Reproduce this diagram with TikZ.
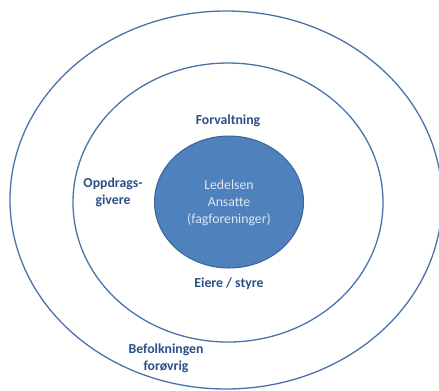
\documentclass[tikz,border=0pt]{standalone}
\usepackage{fontspec}
\setmainfont{Carlito}
\usetikzlibrary{shapes.geometric}
\definecolor{ringblue}{HTML}{4A72AA}
\definecolor{corefill}{HTML}{4F81BD}
\definecolor{coreline}{HTML}{3B6499}
\definecolor{labelblue}{HTML}{2B4F87}
\definecolor{coretext}{HTML}{DCE6F2}
\begin{document}
\begin{tikzpicture}[x=1bp,y=-1bp,
  ring/.style={draw=ringblue,line width=1.3bp},
  label/.style={text=labelblue,font=\fontsize{13.8}{17}\selectfont\bfseries,align=center,inner sep=0pt},
  coretxt/.style={text=coretext,font=\fontsize{13.8}{17}\selectfont,align=center,inner sep=0pt}]
  \useasboundingbox (0,0) rectangle (439,390);
  \clip (0,0) rectangle (439,390);
  % outer and inner rings
  \node[ring,ellipse,minimum width=432bp,minimum height=378bp,inner sep=0pt] (outer) at (226,200) {};
  \node[ring,ellipse,minimum width=310bp,minimum height=279bp,inner sep=0pt] (inner) at (228,202.5) {};
  % core
  \node[ellipse,fill=corefill,draw=coreline,line width=1bp,minimum width=149bp,minimum height=132bp,inner sep=0pt] (core) at (229,202) {};
  \node[coretxt] (coretext) at (229,203) {Ledelsen\\Ansatte\\(fagforeninger)};
  % labels
  \node[label] (forv) at (228,121) {Forvaltning};
  \node[label] (oppd) at (113,192.5) {Oppdrags-\\givere};
  \node[label] (eier) at (229,284) {Eiere / styre};
  \node[label] (befolk) at (166,358.5) {Befolkningen\\forøvrig};
\end{tikzpicture}
\end{document}
